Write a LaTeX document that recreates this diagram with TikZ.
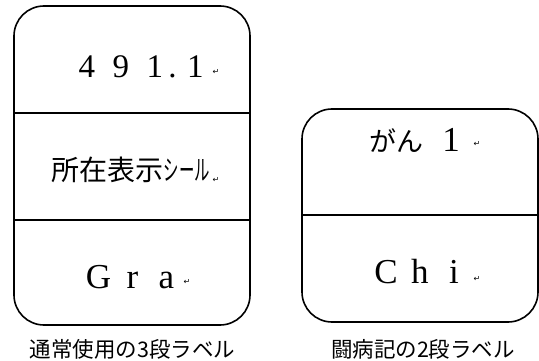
\documentclass[tikz,border=0pt]{standalone}
\usepackage{fontspec}
\usepackage{graphicx}
\setmainfont{Liberation Serif}
\newfontfamily\jp{Noto Sans CJK JP}
\newfontfamily\sym{DejaVu Sans}
\newcommand{\cellbox}[2]{\makebox[#1][c]{#2}}
\begin{document}
\begin{tikzpicture}[x=1pt,y=-1pt,
  labelbox/.style={draw=black,line width=1.6pt,rounded corners=30pt,inner sep=0pt},
  divider/.style={draw=black,line width=1.6pt},
  big/.style={inner sep=0pt,anchor=base,font=\fontsize{35}{35}\selectfont},
  jptext/.style={inner sep=0pt,anchor=center},
  retmark/.style={inner sep=0pt,anchor=center,font=\sym\fontsize{8}{8}\selectfont},
  caption/.style={inner sep=0pt,anchor=center,font=\jp\fontsize{21.5}{21.5}\selectfont}]
\useasboundingbox (0,0) rectangle (539,361);
% boxes
\node[labelbox,minimum width=236pt,minimum height=319pt] (boxA) at (132,165.5) {};
\node[labelbox,minimum width=236pt,minimum height=213pt] (boxB) at (420,215.5) {};
% dividers
\coordinate (a1) at (0,113);
\coordinate (a2) at (0,220);
\coordinate (b1) at (0,215);
\draw[divider] (boxA.west |- a1) -- (boxA.east |- a1);
\draw[divider] (boxA.west |- a2) -- (boxA.east |- a2);
\draw[divider] (boxB.west |- b1) -- (boxB.east |- b1);
% left box texts
\node[big,font=\fontsize{33}{33}\selectfont] (num) at (144,78)
  {\cellbox{34pt}{4}\cellbox{34pt}{9}\cellbox{34pt}{1}\cellbox{1pt}{.}\cellbox{45pt}{1}};
\node[jptext,font=\jp\fontsize{28}{28}\selectfont] (loc) at (131,170)
  {所在表示\scalebox{0.55}[1]{シール}};
\node[big] (gra) at (132.5,288) {\cellbox{34pt}{G}\cellbox{34pt}{r}\cellbox{34pt}{a}};
\node[retmark] (m1) at (216,72) {↵};
\node[retmark] (m2) at (216,180) {↵};
\node[retmark] (m3) at (187,282) {↵};
% right box texts
\node[inner sep=0pt,anchor=base] (gan) at (424,152)
  {{\jp\fontsize{27}{27}\selectfont がん}\cellbox{56pt}{\fontsize{35}{35}\selectfont 1}};
\node[big] (chi) at (420,283) {\cellbox{34pt}{C}\cellbox{34pt}{h}\cellbox{34pt}{i}};
\node[retmark] (m4) at (477,144) {↵};
\node[retmark] (m5) at (477,279) {↵};
% captions
\node[caption] (capA) at (132.5,349) {通常使用の3段ラベル};
\node[caption] (capB) at (423,349) {闘病記の2段ラベル};
\end{tikzpicture}
\end{document}
